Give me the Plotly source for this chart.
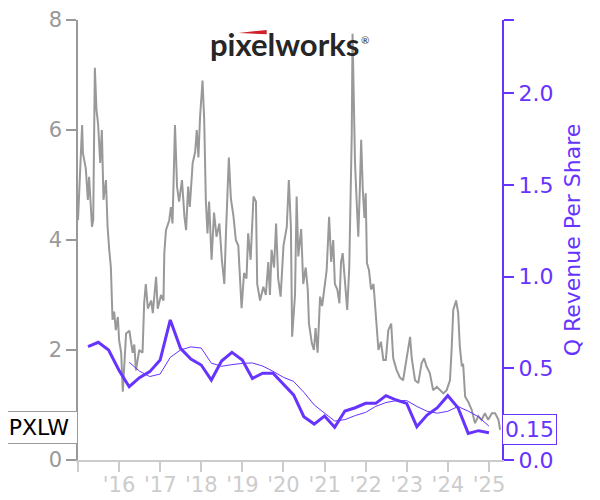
import pandas as pd
import plotly.graph_objects as go

# ---- data ----
price_year = [2015.00, 2015.07, 2015.10, 2015.12, 2015.19, 2015.24, 2015.27, 2015.34, 2015.37, 2015.41,
              2015.45, 2015.49, 2015.54, 2015.58, 2015.62, 2015.68, 2015.72, 2015.76, 2015.80, 2015.84,
              2015.88, 2015.92, 2015.97, 2016.00, 2016.05, 2016.09, 2016.17, 2016.25, 2016.33, 2016.37,
              2016.41, 2016.49, 2016.57, 2016.61, 2016.65, 2016.70, 2016.78, 2016.82, 2016.90, 2016.94,
              2017.02, 2017.08, 2017.10, 2017.14, 2017.22, 2017.26, 2017.30, 2017.36, 2017.41, 2017.46,
              2017.53, 2017.59, 2017.63, 2017.68, 2017.72, 2017.79, 2017.85, 2017.89, 2017.93, 2017.97,
              2018.03, 2018.07, 2018.11, 2018.15, 2018.19, 2018.25, 2018.31, 2018.37, 2018.44, 2018.50,
              2018.56, 2018.60, 2018.67, 2018.72, 2018.78, 2018.84, 2018.90, 2018.98, 2019.04, 2019.10,
              2019.14, 2019.20, 2019.27, 2019.33, 2019.36, 2019.43, 2019.51, 2019.57, 2019.63, 2019.67,
              2019.71, 2019.77, 2019.82, 2019.87, 2019.93, 2020.00, 2020.08, 2020.13, 2020.18, 2020.21,
              2020.28, 2020.32, 2020.36, 2020.43, 2020.48, 2020.54, 2020.59, 2020.62, 2020.69, 2020.74,
              2020.78, 2020.83, 2020.89, 2020.94, 2020.99, 2021.05, 2021.11, 2021.16, 2021.21, 2021.25,
              2021.31, 2021.36, 2021.40, 2021.44, 2021.50, 2021.55, 2021.60, 2021.64, 2021.66, 2021.68,
              2021.72, 2021.74, 2021.78, 2021.82, 2021.86, 2021.89, 2021.93, 2021.97, 2022.00, 2022.03,
              2022.08, 2022.13, 2022.19, 2022.23, 2022.27, 2022.31, 2022.37, 2022.43, 2022.49, 2022.55,
              2022.62, 2022.67, 2022.75, 2022.83, 2022.91, 2023.00, 2023.08, 2023.12, 2023.20, 2023.28,
              2023.36, 2023.42, 2023.48, 2023.56, 2023.64, 2023.73, 2023.81, 2023.89, 2023.97, 2024.05,
              2024.09, 2024.13, 2024.20, 2024.25, 2024.29, 2024.34, 2024.37, 2024.42, 2024.50, 2024.58,
              2024.66, 2024.74, 2024.82, 2024.90, 2024.98, 2025.07, 2025.15, 2025.23, 2025.27]
price_val = [4.36, 5.45, 6.09, 5.58, 5.30, 4.73, 5.15, 4.24, 4.36, 7.13,
             6.36, 6.10, 5.40, 6.00, 4.73, 5.09, 4.24, 3.82, 3.50, 2.55,
             2.70, 2.36, 2.60, 2.18, 1.95, 1.24, 2.30, 2.35, 1.95, 2.10,
             1.63, 2.00, 1.95, 2.85, 3.20, 2.75, 2.90, 2.67, 3.33, 2.75,
             3.00, 2.90, 3.76, 4.18, 4.36, 4.60, 4.30, 6.09, 4.97, 4.70,
             5.09, 4.42, 4.18, 4.97, 4.60, 5.40, 5.60, 6.00, 5.50, 6.24,
             6.90, 6.20, 4.73, 4.12, 4.70, 3.64, 4.50, 4.06, 4.30, 3.64,
             3.20, 4.12, 5.50, 4.75, 4.45, 4.00, 3.90, 2.76, 3.40, 3.30,
             4.12, 3.64, 4.79, 4.70, 3.20, 2.90, 3.15, 3.00, 3.60, 3.00,
             3.82, 3.50, 4.30, 3.30, 2.97, 3.90, 4.24, 5.09, 4.24, 2.24,
             3.00, 4.79, 3.70, 4.20, 3.20, 3.50, 3.10, 2.48, 2.12, 2.00,
             2.40, 1.95, 2.97, 2.80, 3.10, 3.45, 4.42, 3.60, 4.00, 3.20,
             3.10, 2.85, 3.60, 3.76, 3.20, 2.73, 3.50, 4.79, 5.90, 7.75,
             5.90, 5.40, 4.70, 4.06, 5.00, 5.82, 4.90, 4.40, 4.85, 3.58,
             3.45, 3.10, 3.20, 2.85, 2.40, 2.00, 2.15, 1.82, 1.82, 2.36,
             2.48, 1.85, 1.64, 1.50, 1.45, 1.87, 2.24, 1.85, 1.45, 1.40,
             1.76, 1.85, 1.70, 1.58, 1.27, 1.33, 1.27, 1.21, 1.27, 1.45,
             2.00, 2.73, 2.90, 2.67, 2.06, 1.70, 1.75, 1.15, 1.05, 0.91,
             0.67, 0.80, 0.73, 0.85, 0.73, 0.85, 0.85, 0.73, 0.55]

quarter_end = pd.date_range("2015-03-31", periods=40, freq="QE")
rev_per_share = [0.618, 0.642, 0.600, 0.490, 0.400, 0.449, 0.482, 0.545, 0.764, 0.609,
                 0.551, 0.518, 0.436, 0.540, 0.587, 0.545, 0.445, 0.473, 0.473, 0.414,
                 0.355, 0.236, 0.196, 0.240, 0.178, 0.267, 0.285, 0.309, 0.309, 0.351,
                 0.327, 0.309, 0.182, 0.245, 0.285, 0.351, 0.285, 0.145, 0.160, 0.149]

year_ticks = list(range(2015, 2026))
year_labels = [""] + ["'%02d" % (y % 100) for y in range(2016, 2026)]

ticker = "PXLW"
PURPLE = "#6633ff"
GRAY = "#999999"
LIGHT = "#cccccc"

# ---- derived ----
base = pd.Timestamp("2015-01-01")
price_dates = [base + pd.Timedelta(days=(y - 2015) * 365.25) for y in price_year]
rev = pd.Series(rev_per_share, index=quarter_end)
rev_avg = rev.rolling(4).mean().iloc[4:]

fig = go.Figure()
fig.add_trace(go.Scatter(x=price_dates, y=price_val, mode="lines",
                         line=dict(color=GRAY, width=2), yaxis="y", hoverinfo="skip"))
fig.add_trace(go.Scatter(x=rev_avg.index, y=rev_avg.values, mode="lines",
                         line=dict(color=PURPLE, width=1), yaxis="y2"))
fig.add_trace(go.Scatter(x=rev.index, y=rev.values, mode="lines",
                         line=dict(color=PURPLE, width=3), yaxis="y2"))

# page body has an 8px margin, so the figure is sized/placed to compensate
fig.update_layout(
    width=592, height=492,
    margin=dict(l=70, r=98, t=12, b=40),
    paper_bgcolor="white", plot_bgcolor="white",
    showlegend=False,
    font=dict(family="DejaVu Sans"),
    xaxis=dict(type="date", range=["2015-01-01", "2025-04-26"], automargin=False,
               tickvals=[pd.Timestamp(f"{y}-01-01") for y in year_ticks], ticktext=year_labels,
               ticks="outside", ticklen=10, tickwidth=1.5, tickcolor=LIGHT,
               ticklabelstandoff=-5,
               showline=True, linecolor=LIGHT, linewidth=1.5,
               showgrid=False, zeroline=False,
               tickfont=dict(size=21, color=LIGHT)),
    yaxis=dict(range=[0, 8], tickvals=[0, 2, 4, 6, 8], automargin=False,
               ticks="outside", ticklen=10, tickwidth=1.5, tickcolor=GRAY,
               showline=True, linecolor=GRAY, linewidth=1.5,
               showgrid=False, zeroline=False,
               tickfont=dict(size=21, color=GRAY)),
    yaxis2=dict(overlaying="y", side="right", range=[0, 2.4], automargin=False,
                tickvals=[0, 0.5, 1.0, 1.5, 2.0, 2.4],
                ticktext=["0.0", "0.5", "1.0", "1.5", "2.0", ""],
                ticks="outside", ticklen=10, tickwidth=2, tickcolor=PURPLE,
                showline=True, linecolor=PURPLE, linewidth=2,
                showgrid=False, zeroline=False,
                tickfont=dict(size=22, color=PURPLE),
                title=dict(text="Q Revenue Per Share", font=dict(size=22, color=PURPLE), standoff=12)),
)

fig.add_annotation(x=0, xref="paper", xanchor="right", y=price_val[-1], yref="y", yshift=2,
                   text=ticker, showarrow=False, font=dict(size=22, color="black"),
                   bgcolor="white", bordercolor=GRAY, borderwidth=1, borderpad=3, width=70)
fig.add_annotation(x=1, xref="paper", xanchor="left", y=rev_per_share[-1], yref="y2", yshift=3,
                   text="%.2f" % rev_per_share[-1], showarrow=False, font=dict(size=22, color=PURPLE),
                   bgcolor="white", bordercolor=PURPLE, borderwidth=1, borderpad=2)

# logo
fig.add_annotation(x=0.488, xref="paper", y=0.945, yref="paper", xanchor="center", yanchor="middle",
                   text="<b>pixelworks</b>",
                   showarrow=False, font=dict(family="Lato", size=31, color="#262626"))
fig.add_annotation(x=0.677, xref="paper", y=0.955, yref="paper", xanchor="center", yanchor="middle",
                   text="®", showarrow=False, font=dict(family="Lato", size=10, color="#262626"))
fig.add_shape(type="path", xref="paper", yref="paper",
              path="M 0.378 0.9705 L 0.445 0.9775 L 0.445 0.9675 Z",
              fillcolor="#d0202a", line=dict(width=0))

fig.write_html("out.html")
